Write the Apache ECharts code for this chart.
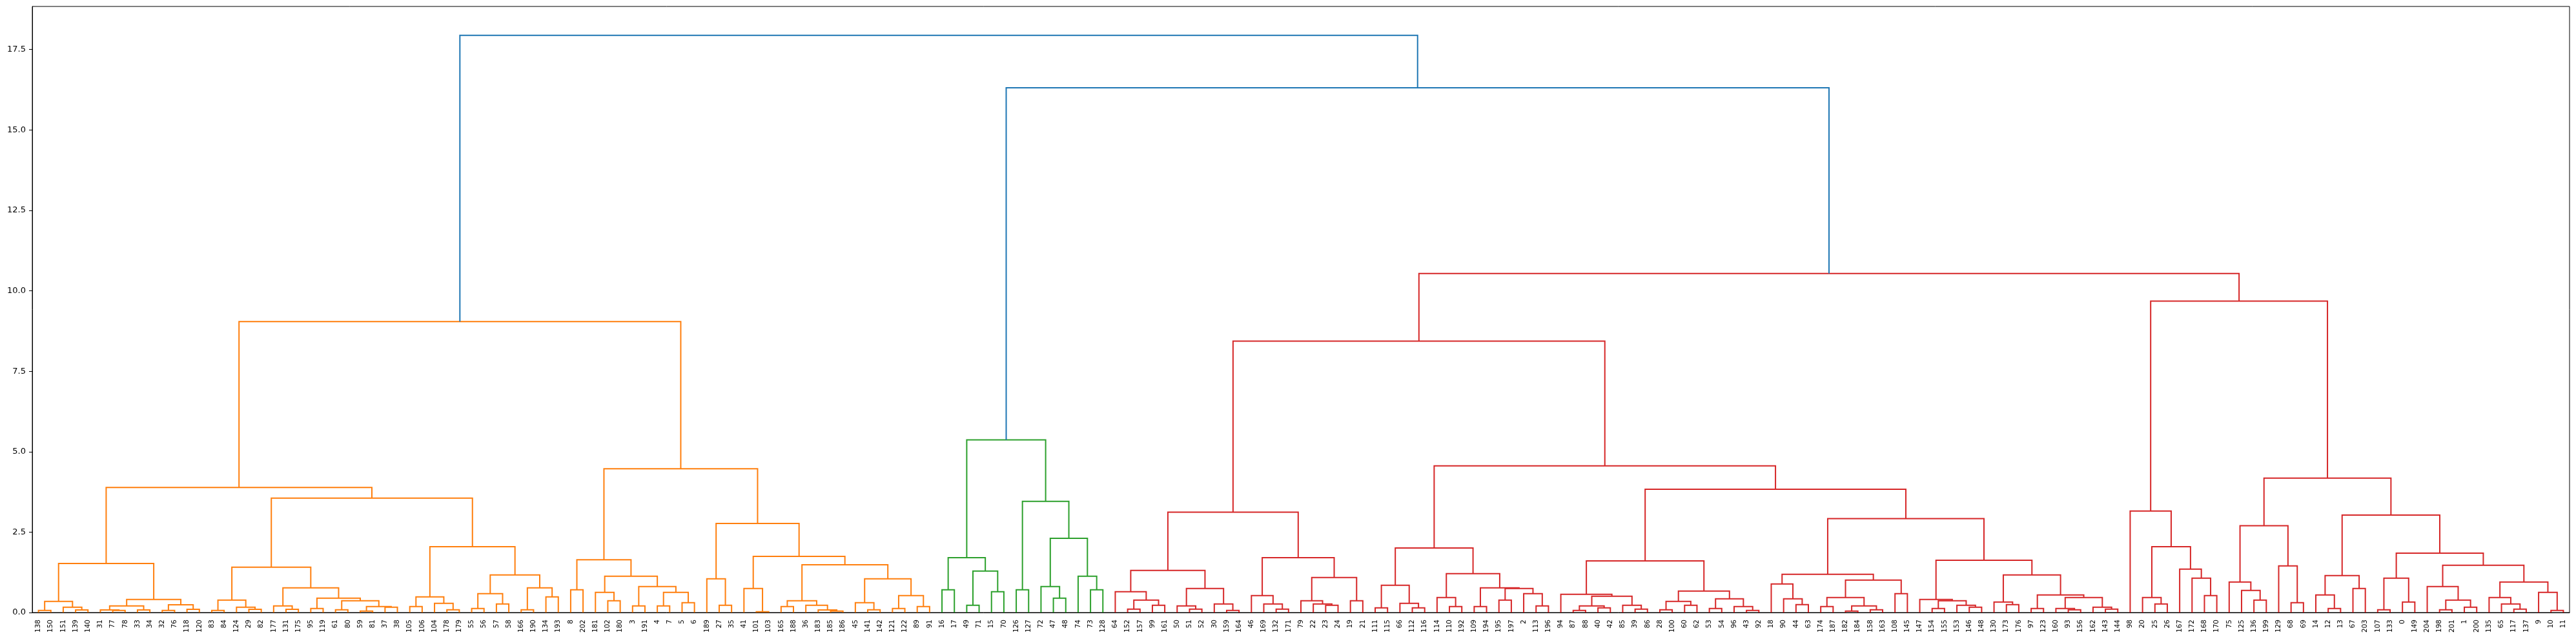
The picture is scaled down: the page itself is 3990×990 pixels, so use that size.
<!DOCTYPE html>
<html>
<head>
<meta charset="utf-8">
<script src="https://cdn.jsdelivr.net/npm/echarts@6/dist/echarts.min.js"></script>
<style>html,body{margin:0;padding:0;background:#fff}#c{width:3990px;height:990px}</style>
</head>
<body>
<div id="c"></div>
<script>
// Each node: leaf label (number) or [left, right, mergeHeight]
const orangeL1 = [[[138,150,0.067],[151,[139,140,0.08],0.167],0.347],
  [[[31,[77,78,0.067],0.08],[33,34,0.08],0.207],[[32,76,0.067],[118,120,0.1],0.24],0.407],1.527];
const orangeL2 = [[[[83,84,0.067],[124,[29,82,0.1],0.167],0.387],
  [[177,[131,175,0.1],0.207],[[95,119,0.127],[[61,80,0.085],[[59,81,0.047],[37,38,0.167],0.187],0.367],0.447],0.767],1.407],
  [[[105,106,0.187],[104,[178,179,0.087],0.287],0.487],[[[55,56,0.127],[57,58,0.267],0.587],[[166,190,0.087],[134,193,0.487],0.767],1.167],2.047],3.556];
const orangeR1 = [[8,202,0.707],[[181,[102,180,0.367],0.627],[[3,191,0.207],[[4,7,0.207],[5,6,0.307],0.627],0.807],1.127],1.64];
const orangeR2 = [[189,[27,35,0.227],1.047],
  [[41,[101,103,0.027],0.747],[[[165,188,0.187],[36,[183,[185,186,0.047],0.08],0.227],0.367],[[45,[141,142,0.087],0.307],[[121,122,0.127],[89,91,0.187],0.527],1.047],1.487],1.747],2.77];
const orangeTree = [[orangeL1, orangeL2, 3.885], [orangeR1, orangeR2, 4.467], 9.04];

const greenTree = [[[16,17,0.707],[[49,71,0.227],[15,70,0.647],1.287],1.707],
  [[126,127,0.707],[[72,[47,48,0.447],0.807],[74,[73,128,0.707],1.127],2.307],3.455],5.366];

const redA = [[[64,[[152,157,0.107],[99,161,0.227],0.387],0.647],[[50,[51,52,0.107],0.207],[30,[159,164,0.067],0.267],0.747],1.307],
  [[46,[169,[132,171,0.107],0.267],0.527],[[79,[22,[23,24,0.227],0.267],0.367],[19,21,0.367],1.087],1.707],3.117];
const redB1 = [[[111,115,0.147],[66,[112,116,0.147],0.287],0.847],
  [[114,[110,192,0.187],0.467],[[109,194,0.187],[[195,197,0.387],[2,[113,196,0.207],0.587],0.747],0.767],1.207],2.007];
const redB2 = [[94,[[[87,88,0.067],[40,42,0.147],0.207],[85,[39,86,0.107],0.227],0.507],0.567],
  [[[28,100,0.087],[60,62,0.227],0.347],[[53,54,0.127],[96,[43,92,0.067],0.187],0.427],0.667],1.607];
const redB3 = [[18,[90,[44,63,0.247],0.427],0.887],
  [[[174,187,0.187],[[182,184,0.047],[158,163,0.087],0.207],0.467],[108,145,0.587],1.007],1.187];
const redB4 = [[147,[[154,155,0.127],[153,[146,148,0.167],0.227],0.367],0.407],
  [[130,[173,176,0.247],0.327],[[97,123,0.127],[[160,[93,156,0.087],0.127],[162,[143,144,0.107],0.167],0.467],0.547],1.167],1.627];
const redC1 = [98,[[20,[25,26,0.267],0.467],[167,[172,[168,170,0.527],1.067],1.347],2.047],3.157];
const redC2 = [[75,[125,[136,199,0.387],0.687],0.947],[129,[68,69,0.307],1.447],2.70];
const redC3 = [[14,[12,13,0.127],0.547],[67,203,0.747],1.147];
const redC4 = [[[107,133,0.087],[0,149,0.327],1.067],
  [[204,[[198,201,0.087],[1,200,0.167],0.387],0.807],[[135,[65,[117,137,0.107],0.267],0.467],[9,[10,11,0.067],0.627],0.947],1.467],1.847];
const redTree = [[redA, [redB1, [redB2, [redB3, redB4, 2.92], 3.83], 4.56], 8.437],
  [redC1, [redC2, [redC3, redC4, 3.03], 4.18], 9.68], 10.535];

const topTree = [orangeTree, [greenTree, redTree, 16.31], 17.94];

const yTicks = [0, 2.5, 5, 7.5, 10, 12.5, 15, 17.5];

const clusterColor = new Map([[orangeTree,'#ff7f0e'],[greenTree,'#2ca02c'],[redTree,'#d62728']]);
const leafLabels = [];
const segs = [];
function layout(node, color) {
  if (clusterColor.has(node)) color = clusterColor.get(node);
  if (typeof node === 'number') {
    const x = 10 * leafLabels.length + 5;
    leafLabels.push(String(node));
    return {x: x, h: 0};
  }
  const l = layout(node[0], color);
  const r = layout(node[1], color);
  const h = node[2];
  segs.push({coords: [[l.x, l.h], [l.x, h], [r.x, h], [r.x, r.h]], lineStyle: {color: color}});
  return {x: (l.x + r.x) / 2, h: h};
}
layout(topTree, '#1f77b4');
const nLeaves = leafLabels.length;
const yMax = 17.94 * 1.05;

const chart = echarts.init(document.getElementById('c'), null, {renderer: 'canvas'});
chart.setOption({
  animation: false,
  textStyle: {fontFamily: 'DejaVu Sans'},
  grid: {left: 50, right: 10, top: 10, bottom: 41, show: true, borderColor: '#000', borderWidth: 1, backgroundColor: '#fff'},
  xAxis: [
    {type: 'value', min: 0, max: 10 * nLeaves, show: false},
    {type: 'category', data: leafLabels, position: 'bottom', boundaryGap: true,
     axisLine: {show: true, lineStyle: {color: '#000', width: 1}},
     axisTick: {show: false},
     axisLabel: {interval: 0, rotate: 90, fontSize: 10.5, color: '#000', margin: 11, fontFamily: 'DejaVu Sans'},
     splitLine: {show: false}}
  ],
  yAxis: {
    type: 'value', min: 0, max: yMax,
    axisLine: {show: true, lineStyle: {color: '#000', width: 1}},
    axisTick: {show: true, length: 5, lineStyle: {color: '#000'}, customValues: yTicks},
    axisLabel: {color: '#000', fontSize: 13, margin: 10, fontFamily: 'DejaVu Sans', customValues: yTicks,
      formatter: function (v) { return v.toFixed(1); }},
    splitLine: {show: false}
  },
  series: [{
    type: 'lines', coordinateSystem: 'cartesian2d', xAxisIndex: 0, yAxisIndex: 0,
    polyline: true, silent: true,
    lineStyle: {width: 2, opacity: 1},
    data: segs
  }]
});
</script>
</body>
</html>
